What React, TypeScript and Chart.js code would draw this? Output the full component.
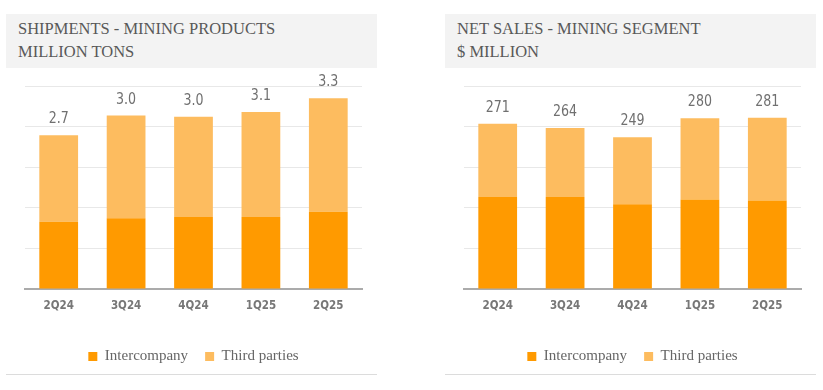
import React, { useEffect, useRef } from "react";
import { Chart, registerables } from "chart.js";

Chart.register(...registerables);

const quarters = ["2Q24", "3Q24", "4Q24", "1Q25", "2Q25"];
const seriesNames = ["Intercompany", "Third parties"];

const shipIntercompany = [1.16, 1.22, 1.24, 1.24, 1.33];
const shipThirdParties = [1.49, 1.77, 1.73, 1.81, 1.96];
const shipTotalLabels = ["2.7", "3.0", "3.0", "3.1", "3.3"];

const salesIntercompany = [151, 151, 139, 147, 145];
const salesThirdParties = [120, 113, 110, 133, 136];
const salesTotalLabels = ["271", "264", "249", "280", "281"];

const COLOR_IC = "#FF9A00";
const COLOR_TP = "#FDBC5F";
const NARROW = "'Liberation Sans Narrow', 'DejaVu Sans Condensed', 'Roboto', sans-serif";
const SERIF = "'Liberation Serif', 'DejaVu Serif', serif";

type PanelProps = {
  left: number;
  titleLines: string[];
  ic: number[];
  tp: number[];
  totals: string[];
  yMax: number;
};

function Panel({ left, titleLines, ic, tp, totals, yMax }: PanelProps) {
  const ref = useRef<HTMLCanvasElement | null>(null);

  useEffect(() => {
    if (!ref.current) return;
    const totalsPlugin = {
      id: "totals",
      afterDatasetsDraw(chart: any) {
        const ctx = chart.ctx;
        const meta = chart.getDatasetMeta(1);
        ctx.save();
        ctx.font = `16.5px ${NARROW}`;
        ctx.fillStyle = "#707070";
        ctx.textAlign = "center";
        ctx.textBaseline = "alphabetic";
        meta.data.forEach((el: any, i: number) => {
          ctx.save();
          ctx.translate(el.x, el.y - 12);
          ctx.scale(0.85, 1);
          ctx.fillText(totals[i], 0, 0);
          ctx.restore();
        });
        ctx.restore();
      },
    };
    const chart = new Chart(ref.current, {
      type: "bar",
      data: {
        labels: quarters,
        datasets: [
          {
            label: seriesNames[0],
            data: ic,
            backgroundColor: COLOR_IC,
            barPercentage: 0.575,
            categoryPercentage: 1,
          },
          {
            label: seriesNames[1],
            data: tp,
            backgroundColor: COLOR_TP,
            barPercentage: 0.575,
            categoryPercentage: 1,
          },
        ],
      },
      options: {
        animation: false,
        responsive: false,
        maintainAspectRatio: false,
        layout: { padding: { top: 18, left: 19, right: 15, bottom: 0 } },
        plugins: {
          tooltip: { enabled: false },
          legend: {
            position: "bottom",
            labels: {
              boxWidth: 9,
              boxHeight: 9,
              padding: 17,
              color: "#666666",
              font: { family: SERIF, size: 15 },
            },
          },
        },
        scales: {
          x: {
            stacked: true,
            grid: { display: false, drawTicks: false },
            border: { display: true, color: "#ababab", width: 2 },
            ticks: {
              padding: 10,
              color: "#777777",
              font: { family: NARROW, size: 11.5, weight: "bold" },
            },
            afterFit: (s: any) => {
              s.height = 43;
            },
          },
          y: {
            stacked: true,
            min: 0,
            max: yMax,
            ticks: { display: false, count: 6 },
            grid: { color: "#e8e8e8", lineWidth: 1, drawTicks: false },
            border: { display: false },
          },
        },
      },
      plugins: [totalsPlugin],
    });
    return () => chart.destroy();
  }, []);

  return (
    <>
      <div
        style={{
          position: "absolute",
          left,
          top: 14,
          width: 371,
          height: 54,
          background: "#f3f3f3",
          boxSizing: "border-box",
          paddingLeft: 12,
          paddingTop: 3,
          fontFamily: SERIF,
          fontSize: 16.5,
          lineHeight: "23px",
          color: "#595959",
          whiteSpace: "nowrap",
        }}
      >
        {titleLines.map((t, i) => (
          <div key={i}>{t}</div>
        ))}
      </div>
      <canvas
        ref={ref}
        width={371}
        height={306}
        style={{ position: "absolute", left, top: 68, width: 371, height: 306 }}
      />
      <div
        style={{
          position: "absolute",
          left,
          top: 374,
          width: 371,
          height: 1,
          background: "#dcdcdc",
        }}
      />
    </>
  );
}

export default function App() {
  return (
    <div
      style={{
        position: "absolute",
        left: 0,
        top: 0,
        width: 823,
        height: 390,
        background: "#ffffff",
        overflow: "hidden",
      }}
    >
      <Panel
        left={6}
        titleLines={["SHIPMENTS - MINING PRODUCTS", "MILLION TONS"]}
        ic={shipIntercompany}
        tp={shipThirdParties}
        totals={shipTotalLabels}
        yMax={3.5}
      />
      <Panel
        left={445}
        titleLines={["NET SALES - MINING SEGMENT", "$ MILLION"]}
        ic={salesIntercompany}
        tp={salesThirdParties}
        totals={salesTotalLabels}
        yMax={333}
      />
    </div>
  );
}
